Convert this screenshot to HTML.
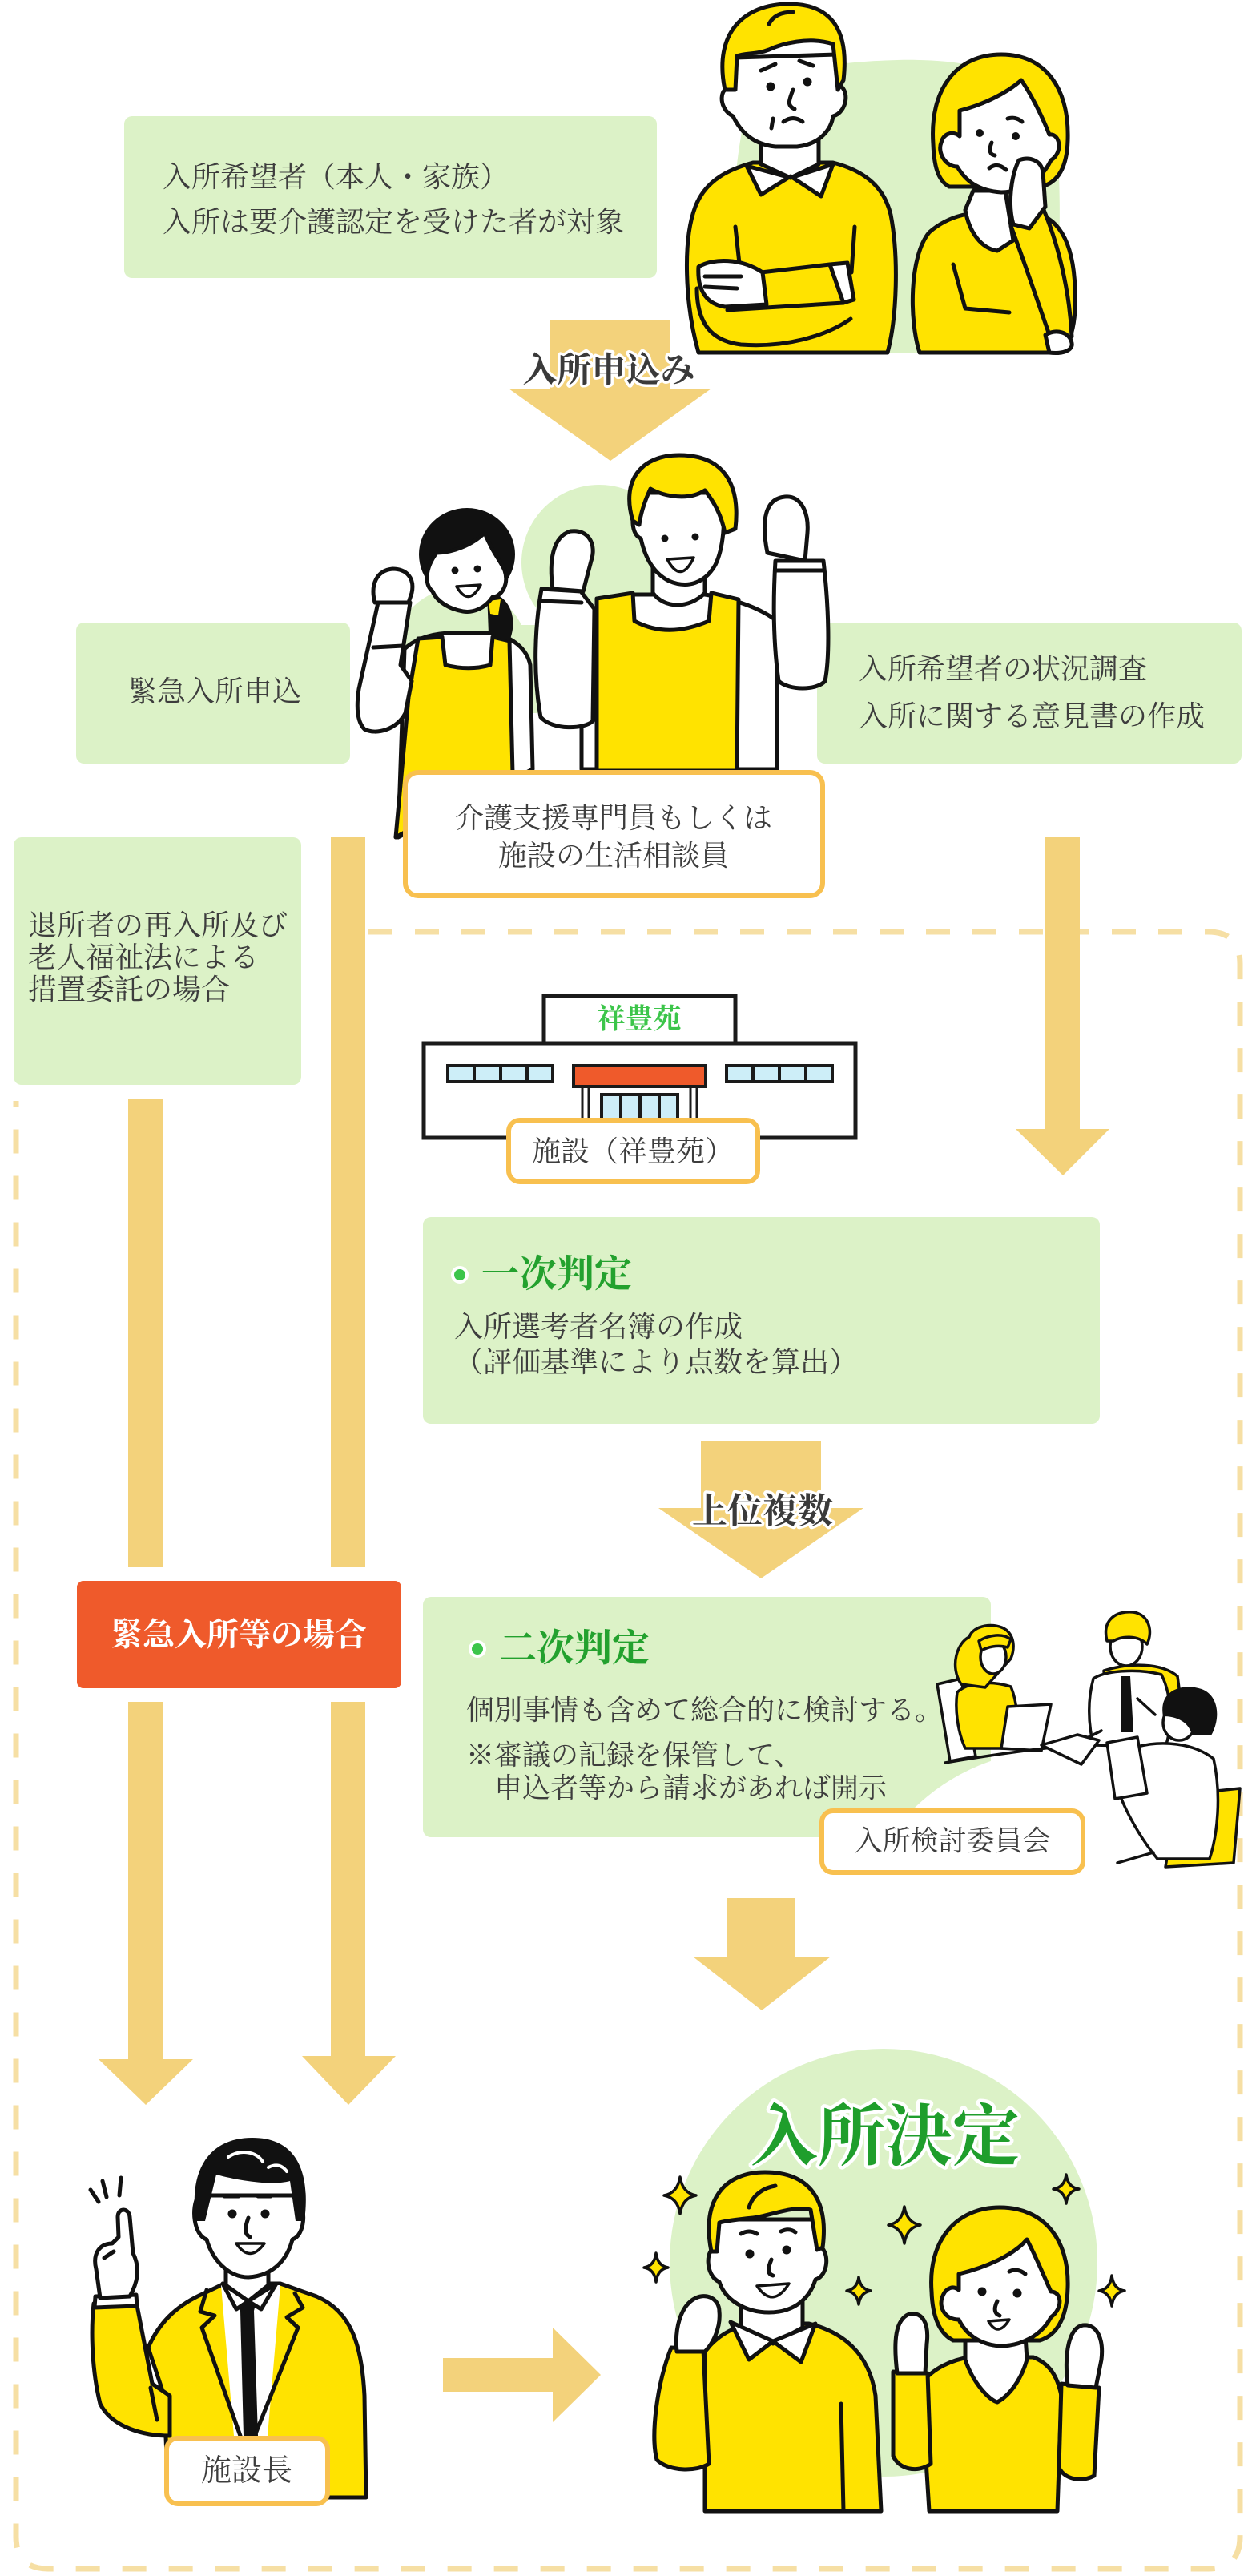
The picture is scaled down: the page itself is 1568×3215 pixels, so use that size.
<!DOCTYPE html>
<html><head><meta charset="utf-8">
<style>
html,body{margin:0;padding:0;background:#fff;}
body{width:1568px;height:3215px;overflow:hidden;position:relative;}
svg{position:absolute;left:0;top:0;display:block;}
text{font-family:"Liberation Serif","Noto Serif CJK SC","Noto Serif CJK JP",serif;}
.g{fill:#dcf2c7;}
.ar{fill:#f3d27b;}
.lb{fill:#fff;stroke:#f8c04f;stroke-width:6;}
.ln{stroke:#111;stroke-width:5;stroke-linejoin:round;stroke-linecap:round;}
.l3{stroke:#111;stroke-width:3.5;stroke-linejoin:round;stroke-linecap:round;}
.y{fill:#ffe300;}
.w{fill:#fff;}
.nf{fill:none;}
.t{font-size:36px;fill:#3d3d3d;}
.lab{font-size:43px;font-weight:700;fill:#3a3a3a;stroke:#fff;stroke-width:7px;paint-order:stroke;stroke-linejoin:round;}
.ttl{font-size:47px;font-weight:700;fill:#23a12e;}
</style></head><body>
<svg width="1568" height="3215" viewBox="0 0 1568 3215" xmlns="http://www.w3.org/2000/svg">
<defs>
<clipPath id="cg"><rect x="528" y="1993" width="709" height="300" rx="10"/></clipPath>
</defs>

<!-- dashed border -->
<path d="M 460 1163 H 1508 Q 1548 1163 1548 1203 V 3166 Q 1548 3206 1508 3206 H 60 Q 20 3206 20 3166 V 1374" fill="none" stroke="#f6dfa4" stroke-width="7" stroke-dasharray="30 28"/>

<!-- Box A -->
<rect class="g" x="155" y="145" width="665" height="202" rx="10"/>
<text class="t" x="203" y="221" dominant-baseline="central">入所希望者（本人・家族）</text>
<text class="t" x="203" y="277" dominant-baseline="central">入所は要介護認定を受けた者が対象</text>

<!-- Top couple -->
<path class="g" d="M 925 170 C 935 95 1010 78 1120 75 C 1240 72 1318 100 1322 220 C 1326 330 1318 420 1260 440 L 960 440 C 915 420 905 290 925 170 Z"/>
<!-- man -->
<path class="y ln" d="M 872 440 C 855 380 852 300 868 258 C 882 222 915 210 940 203 L 1040 203 C 1075 212 1103 230 1112 268 C 1122 320 1120 395 1108 440 Z"/>
<path class="ln nf" d="M 918 283 L 924 338 M 1067 283 L 1063 340"/>
<path class="ln nf" d="M 870 360 C 870 400 885 425 925 430 C 980 434 1030 420 1062 398"/>
<path class="y ln" d="M 950 340 L 1036 330 L 1053 378 L 908 387 Z"/>
<path class="w ln" d="M 1036 330 L 1058 328 L 1066 374 L 1053 378 Z"/>
<path class="w ln" d="M 872 333 C 890 322 925 322 952 340 L 957 380 L 905 383 C 885 380 870 366 872 333 Z"/>
<path class="ln nf" d="M 880 345 L 925 345 M 880 358 L 920 360"/>
<path class="w ln" d="M 950 168 L 950 205 L 987 222 L 1022 205 L 1022 168 Z"/>
<path class="w ln" d="M 932 207 L 950 243 L 987 220 L 1025 245 L 1040 205 L 987 222 Z"/>
<path class="w ln" d="M 918 72 L 915 110 C 898 105 895 135 915 145 C 925 165 940 180 968 183 L 995 183 C 1025 180 1038 160 1040 145 C 1058 140 1062 110 1045 105 L 1045 68 Z"/>
<path class="y ln" d="M 905 112 C 890 40 930 5 985 5 C 1040 5 1060 40 1053 100 L 1046 112 L 1040 55 C 1010 45 975 55 960 62 C 945 68 930 66 920 70 L 918 112 Z"/>
<path class="ln nf" d="M 960 30 C 965 20 975 15 990 15 M 950 88 L 968 80 M 998 76 L 1015 82 M 990 112 C 985 125 982 132 992 136 M 978 152 Q 990 143 1002 152 M 965 148 L 963 160"/>
<circle cx="962" cy="108" r="5.5" fill="#111"/><circle cx="1008" cy="102" r="5.5" fill="#111"/>
<!-- woman -->
<path class="y ln" d="M 1148 440 C 1135 400 1135 320 1160 290 C 1185 268 1215 263 1250 265 L 1285 265 C 1320 268 1340 300 1342 360 C 1344 400 1338 425 1325 440 Z"/>
<path class="w ln" d="M 1205 262 C 1210 290 1225 310 1245 313 L 1265 300 L 1255 238 L 1215 238 Z"/>
<path class="ln nf" d="M 1190 330 L 1205 385 L 1260 390"/>
<path class="y ln" d="M 1165 180 C 1160 110 1195 68 1250 68 C 1305 68 1335 110 1333 175 C 1332 210 1320 228 1300 233 L 1185 233 C 1170 225 1166 205 1165 180 Z"/>
<path class="w ln" d="M 1198 138 C 1230 130 1258 115 1275 100 C 1290 122 1303 150 1310 168 C 1323 166 1328 190 1312 200 C 1300 225 1275 240 1250 240 C 1220 238 1205 225 1195 208 C 1180 208 1170 190 1175 178 C 1178 166 1190 163 1198 170 Z"/>
<circle cx="1223" cy="166" r="5" fill="#111"/><circle cx="1268" cy="170" r="5" fill="#111"/>
<path class="ln nf" d="M 1238 178 C 1234 188 1236 193 1242 194 M 1235 210 Q 1245 202 1256 212 M 1258 148 Q 1268 145 1276 152"/>
<path class="y ln" d="M 1262 282 L 1300 255 C 1320 300 1335 360 1338 420 L 1315 432 C 1300 390 1280 330 1262 282 Z"/>
<path class="w ln" d="M 1272 200 C 1285 195 1300 200 1302 215 L 1305 258 L 1285 285 L 1265 280 C 1258 255 1262 220 1272 200 Z"/>
<path class="w ln" d="M 1305 418 C 1318 410 1335 414 1338 428 C 1340 438 1325 442 1310 440 Z"/>

<!-- Arrow 1 -->
<path class="ar" d="M 687 400 H 837 V 485 H 888 L 762 575 L 635 485 H 687 Z"/>
<text class="lab" x="760" y="463" text-anchor="middle" dominant-baseline="central">入所申込み</text>

<!-- Box B, C -->
<rect class="g" x="95" y="777" width="342" height="176" rx="10"/>
<text class="t" x="160" y="863" dominant-baseline="central">緊急入所申込</text>
<rect class="g" x="1020" y="777" width="530" height="176" rx="10"/>
<text class="t" x="1072" y="835" dominant-baseline="central">入所希望者の状況調査</text>
<text class="t" x="1072" y="894" dominant-baseline="central">入所に関する意見書の作成</text>

<!-- Staff cloud -->
<g class="g">
<circle cx="748" cy="702" r="97"/><circle cx="575" cy="818" r="85"/><circle cx="872" cy="812" r="62"/>
<rect x="495" y="780" width="440" height="110"/>
</g>
<!-- woman staff -->
<path class="w ln" d="M 497 1045 L 505 810 C 520 795 545 790 565 790 L 615 790 C 640 795 658 810 662 830 L 665 960 Z"/>
<path class="y ln" d="M 522 797 L 552 795 L 556 830 C 575 835 595 835 612 830 L 615 795 L 636 800 L 640 965 L 494 1045 L 510 870 Z"/>
<path class="w ln" d="M 472 752 L 512 752 L 500 830 L 514 850 L 506 890 C 496 910 470 918 455 910 C 445 900 445 880 448 860 Z"/>
<path class="ln nf" d="M 466 808 L 503 806"/>
<path class="w ln" d="M 468 752 C 462 730 470 712 490 710 C 508 710 518 722 514 740 L 510 752 Z"/>
<ellipse cx="583" cy="692" rx="60" ry="58" fill="#111"/>
<path fill="#111" d="M 608 738 C 635 742 648 770 636 800 L 610 792 Z"/>
<path class="y" d="M 610 750 L 625 748 L 622 768 L 612 766 Z"/>
<path class="w ln" d="M 545 690 C 565 690 590 680 605 665 C 615 690 625 700 630 712 C 636 730 625 745 615 745 C 605 760 590 765 578 763 C 560 760 545 750 540 738 C 530 730 530 710 545 690 Z"/>
<circle cx="568" cy="712" r="4.5" fill="#111"/><circle cx="596" cy="710" r="4.5" fill="#111"/>
<path class="l3" fill="#fff" d="M 570 732 Q 585 758 600 730 Z"/>
<!-- man staff -->
<path class="w ln" d="M 726 805 C 730 770 750 750 780 742 L 880 742 C 920 748 950 760 970 775 L 970 960 L 726 960 Z"/>
<path class="y ln" d="M 745 747 L 790 740 L 792 775 C 820 790 850 790 885 775 L 888 740 L 922 748 L 920 962 L 745 962 Z"/>
<path class="w ln" d="M 676 735 L 725 738 L 742 760 L 740 900 C 730 910 690 912 675 895 C 665 840 668 780 676 735 Z"/>
<path class="ln nf" d="M 676 750 L 726 752"/>
<path class="w ln" d="M 690 735 C 685 700 690 670 712 663 C 735 660 745 680 738 700 L 728 738 Z"/>
<path class="w ln" d="M 968 700 L 1028 700 C 1035 760 1036 820 1030 850 C 1020 862 985 862 972 850 C 965 800 965 750 968 700 Z"/>
<path class="ln nf" d="M 968 712 L 1028 712"/>
<path class="w ln" d="M 958 690 C 950 650 955 622 980 620 C 1000 618 1010 640 1008 665 L 1005 700 Z"/>
<path class="w ln" d="M 815 700 L 815 740 C 830 760 860 760 880 740 L 880 700 Z"/>
<path class="w ln" d="M 798 630 C 786 640 788 668 800 672 C 805 695 815 715 835 725 C 858 735 880 728 893 705 C 903 685 906 650 902 615 L 800 615 Z"/>
<path class="y ln" d="M 790 650 C 775 600 800 568 848 568 C 900 568 925 600 918 660 L 905 665 C 900 640 890 625 880 612 C 860 625 830 620 812 610 C 805 625 800 640 798 655 Z"/>
<circle cx="830" cy="672" r="4.5" fill="#111"/><circle cx="868" cy="670" r="4.5" fill="#111"/>
<path class="l3" fill="#fff" d="M 833 698 Q 850 730 866 696 Z"/>

<!-- Box D -->
<rect class="lb" x="506" y="964" width="521" height="154" rx="16"/>
<text class="t" x="766" y="1021" text-anchor="middle" dominant-baseline="central">介護支援専門員もしくは</text>
<text class="t" x="766" y="1068" text-anchor="middle" dominant-baseline="central">施設の生活相談員</text>

<!-- Box E -->
<rect class="g" x="17" y="1045" width="359" height="309" rx="10"/>
<text class="t" x="35" y="1155" dominant-baseline="central">退所者の再入所及び</text>
<text class="t" x="35" y="1195" dominant-baseline="central">老人福祉法による</text>
<text class="t" x="35" y="1235" dominant-baseline="central">措置委託の場合</text>

<!-- bars -->
<rect class="ar" x="160" y="1372" width="43" height="584"/>
<rect class="ar" x="413" y="1045" width="43" height="911"/>
<path class="ar" d="M 1305 1045 H 1348 V 1409 H 1385 L 1327 1467 L 1268 1409 H 1305 Z"/>
<path class="ar" d="M 160 2124 H 203 V 2570 H 241 L 182 2627 L 123 2570 H 160 Z"/>
<path class="ar" d="M 413 2124 H 456 V 2566 H 494 L 435 2627 L 377 2566 H 413 Z"/>

<!-- Building -->
<rect x="529" y="1302" width="539" height="118" fill="#fff" stroke="#1a1a1a" stroke-width="5"/>
<rect x="679" y="1243" width="239" height="59" fill="#fff" stroke="#1a1a1a" stroke-width="5"/>
<text x="798" y="1272" text-anchor="middle" dominant-baseline="central" font-size="35" font-weight="700" fill="#3cc54a">祥豊苑</text>
<rect x="557" y="1328" width="135" height="24" fill="#1a1a1a"/>
<g fill="#cdeef8"><rect x="561" y="1332" width="29" height="16"/><rect x="594" y="1332" width="29" height="16"/><rect x="627" y="1332" width="29" height="16"/><rect x="660" y="1332" width="28" height="16"/></g>
<rect x="905" y="1328" width="136" height="24" fill="#1a1a1a"/>
<g fill="#cdeef8"><rect x="909" y="1332" width="29" height="16"/><rect x="942" y="1332" width="29" height="16"/><rect x="975" y="1332" width="29" height="16"/><rect x="1008" y="1332" width="29" height="16"/></g>
<rect x="716" y="1330" width="165" height="26" fill="#ef5a2b" stroke="#1a1a1a" stroke-width="4"/>
<path d="M 727 1356 V 1398 M 735 1356 V 1398 M 862 1356 V 1398 M 870 1356 V 1398" stroke="#1a1a1a" stroke-width="3"/>
<rect x="749" y="1364" width="99" height="34" fill="#1a1a1a"/>
<g fill="#cdeef8"><rect x="753" y="1368" width="20" height="30"/><rect x="777" y="1368" width="20" height="30"/><rect x="801" y="1368" width="20" height="30"/><rect x="825" y="1368" width="19" height="30"/></g>
<rect class="lb" x="635" y="1398" width="311" height="77" rx="14"/>
<text class="t" x="790" y="1437" text-anchor="middle" dominant-baseline="central">施設（祥豊苑）</text>

<!-- Box F -->
<rect class="g" x="528" y="1519" width="845" height="258" rx="10"/>
<circle cx="574" cy="1591" r="9" fill="#3cc54a" stroke="#fff" stroke-width="4"/>
<text class="ttl" x="601" y="1591" dominant-baseline="central">一次判定</text>
<text class="t" x="567" y="1656" dominant-baseline="central">入所選考者名簿の作成</text>
<text class="t" x="567" y="1700" dominant-baseline="central">（評価基準により点数を算出）</text>

<!-- Arrow 2 -->
<path class="ar" d="M 875 1798 H 1025 V 1882 H 1078 L 950 1970 L 822 1882 H 875 Z"/>
<text class="lab" x="952" y="1886" text-anchor="middle" dominant-baseline="central" style="font-size:44px">上位複数</text>

<!-- Orange box -->
<rect x="96" y="1973" width="405" height="134" rx="8" fill="#ef5a2b"/>
<text x="298" y="2040" text-anchor="middle" dominant-baseline="central" font-size="40" font-weight="700" fill="#fff">緊急入所等の場合</text>

<!-- Box G -->
<rect class="g" x="528" y="1993" width="709" height="300" rx="10"/>
<circle cx="1320" cy="2440" r="256" fill="#fff" clip-path="url(#cg)"/>
<circle cx="596" cy="2058" r="9" fill="#3cc54a" stroke="#fff" stroke-width="4"/>
<text class="ttl" x="623" y="2058" dominant-baseline="central">二次判定</text>
<text class="t" x="582" y="2135" dominant-baseline="central" style="font-size:35px">個別事情も含めて総合的に検討する。</text>
<text class="t" x="582" y="2191" dominant-baseline="central" style="font-size:35px">※審議の記録を保管して、</text>
<text class="t" x="617" y="2232" dominant-baseline="central" style="font-size:35px">申込者等から請求があれば開示</text>

<!-- Meeting illustration -->
<path class="w l3" d="M 1170 2102 L 1200 2095 L 1218 2192 L 1186 2198 Z"/>
<path class="y l3" d="M 1195 2112 C 1210 2098 1240 2098 1262 2105 C 1272 2130 1272 2160 1262 2182 L 1205 2182 C 1195 2160 1192 2132 1195 2112 Z"/>
<path class="y l3" d="M 1200 2102 C 1185 2080 1195 2050 1210 2043 C 1215 2028 1242 2024 1256 2034 C 1268 2044 1266 2060 1262 2070 L 1230 2106 Z"/>
<ellipse class="w l3" cx="1240" cy="2068" rx="16" ry="21"/>
<path class="y l3" d="M 1222 2048 C 1235 2040 1252 2038 1262 2046 L 1258 2056 C 1245 2052 1232 2056 1225 2060 Z"/>
<path class="w l3" d="M 1258 2130 L 1312 2127 L 1300 2185 L 1250 2182 Z"/>
<path class="l3 nf" d="M 1180 2200 C 1250 2188 1300 2182 1360 2176"/>
<path class="y l3" d="M 1378 2085 C 1410 2075 1450 2075 1470 2092 L 1475 2130 L 1380 2120 Z"/>
<path class="w l3" d="M 1365 2095 C 1380 2085 1420 2082 1450 2090 C 1465 2120 1462 2160 1455 2180 L 1365 2178 C 1358 2150 1358 2120 1365 2095 Z"/>
<path fill="#111" d="M 1399 2092 L 1411 2092 L 1415 2162 L 1400 2162 Z"/>
<ellipse class="w l3" cx="1406" cy="2055" rx="20" ry="24"/>
<path class="y l3" d="M 1382 2048 C 1375 2020 1395 2010 1415 2012 C 1434 2015 1440 2035 1432 2052 C 1420 2040 1400 2042 1390 2048 Z"/>
<path class="l3 nf" d="M 1420 2120 L 1442 2140 M 1375 2160 L 1335 2180"/>
<path class="w l3" d="M 1300 2178 L 1345 2165 L 1372 2172 L 1350 2202 Z"/>
<path class="y l3" d="M 1470 2240 L 1548 2232 L 1540 2325 L 1455 2330 Z"/>
<path class="w l3" d="M 1420 2180 C 1450 2172 1490 2175 1515 2195 C 1525 2240 1520 2290 1510 2320 L 1445 2320 C 1420 2290 1400 2250 1395 2230 Z"/>
<ellipse class="w l3" cx="1472" cy="2150" rx="20" ry="22"/>
<path fill="#111" d="M 1452 2142 C 1446 2110 1475 2100 1500 2108 C 1522 2116 1524 2145 1512 2166 L 1488 2166 C 1485 2150 1470 2142 1452 2142 Z"/>
<path class="w l3" d="M 1382 2175 L 1420 2168 L 1432 2238 L 1392 2245 Z"/>
<path class="l3 nf" d="M 1395 2325 L 1440 2312"/>

<rect class="lb" x="1026" y="2260" width="326" height="77" rx="14"/>
<text class="t" x="1189" y="2298" text-anchor="middle" dominant-baseline="central" style="font-size:35px">入所検討委員会</text>

<!-- Arrow 3 -->
<path class="ar" d="M 907 2369 H 993 V 2442 H 1037 L 951 2509 L 865 2442 H 907 Z"/>

<!-- Right arrow -->
<path class="ar" d="M 553 2943 H 690 V 2905 L 750 2964 L 690 3023 V 2985 H 553 Z"/>

<!-- Boss -->
<path class="y ln" d="M 185 2930 C 200 2895 225 2875 255 2862 L 280 2850 L 350 2850 L 395 2866 C 440 2885 452 2930 455 2990 L 457 3117 L 210 3117 L 205 2990 Z"/>
<path class="y ln" d="M 117 2875 L 170 2872 L 190 2975 L 212 2990 L 212 3040 C 180 3040 140 3030 125 3000 C 115 2960 113 2910 117 2875 Z"/>
<path class="w ln" d="M 119 2866 L 170 2864 L 171 2878 L 118 2880 Z"/>
<path class="w" d="M 276 2852 L 350 2852 L 334 3040 L 292 3040 Z"/>
<path fill="#111" d="M 297 2868 L 321 2868 L 317 2884 L 322 3040 L 304 3040 L 300 2884 Z"/>
<path class="w ln" d="M 282 2820 L 282 2852 L 310 2872 L 335 2852 L 335 2820 Z"/>
<path class="w ln" d="M 278 2850 L 295 2882 L 310 2872 L 326 2882 L 345 2850 L 310 2872 Z"/>
<path class="ln nf" d="M 258 2858 L 250 2885 L 268 2890 L 252 2905 L 300 3040 M 368 2862 L 378 2880 L 358 2892 L 372 2905 L 318 3040 M 188 2980 L 196 3020"/>
<path class="w ln" d="M 248 2740 C 238 2755 242 2790 258 2795 C 265 2820 285 2842 310 2842 C 345 2840 360 2815 365 2795 C 380 2790 384 2758 370 2740 Z"/>
<path fill="#111" d="M 245 2772 C 235 2710 260 2668 315 2668 C 370 2668 388 2710 380 2772 L 369 2772 L 362 2722 C 340 2728 300 2722 270 2714 L 256 2772 Z"/>
<path stroke="#fff" stroke-width="4" fill="none" stroke-linecap="round" d="M 285 2692 C 300 2682 320 2685 328 2698 M 335 2705 C 345 2700 352 2702 358 2710"/>
<circle cx="290" cy="2763" r="5.5" fill="#111"/><circle cx="331" cy="2763" r="5.5" fill="#111"/>
<path class="ln nf" d="M 280 2741 L 298 2741 M 322 2741 L 338 2741 M 310 2768 C 305 2782 305 2788 312 2792"/>
<path class="l3" fill="#fff" d="M 295 2800 Q 312 2825 330 2800 Z"/>
<path class="w ln" d="M 120 2832 C 115 2812 125 2800 140 2800 L 148 2792 L 147 2767 C 147 2755 161 2755 162 2767 L 166 2812 C 176 2832 171 2850 162 2866 L 125 2868 Z"/>
<path class="ln nf" d="M 113 2733 L 123 2748 M 128 2722 L 133 2742 M 151 2718 L 149 2740 M 130 2818 L 142 2810"/>
<rect class="lb" x="208" y="3043" width="201" height="82" rx="14"/>
<text class="t" x="308" y="3084" text-anchor="middle" dominant-baseline="central" style="font-size:38px">施設長</text>

<!-- Happy couple -->
<circle class="g" cx="1103" cy="2824" r="267"/>
<text x="1105" y="2668" text-anchor="middle" dominant-baseline="central" font-size="84" font-weight="700" fill="#1f9e2c" stroke="#fff" stroke-width="9" paint-order="stroke" stroke-linejoin="round">入所決定</text>
<!-- sparkles -->
<g class="y l3">
<path d="M 849 2717 Q 852 2737 869 2740 Q 852 2743 849 2763 Q 846 2743 829 2740 Q 846 2737 849 2717 Z"/>
<path d="M 819 2812 Q 821 2828 834 2830 Q 821 2832 819 2848 Q 817 2832 804 2830 Q 817 2828 819 2812 Z"/>
<path d="M 1129 2754 Q 1132 2774 1149 2777 Q 1132 2780 1129 2800 Q 1126 2780 1109 2777 Q 1126 2774 1129 2754 Z"/>
<path d="M 1072 2842 Q 1074 2857 1087 2859 Q 1074 2861 1072 2876 Q 1070 2861 1057 2859 Q 1070 2857 1072 2842 Z"/>
<path d="M 1331 2714 Q 1333 2730 1347 2732 Q 1333 2734 1331 2750 Q 1329 2734 1315 2732 Q 1329 2730 1331 2714 Z"/>
<path d="M 1388 2840 Q 1390 2857 1404 2859 Q 1390 2861 1388 2878 Q 1386 2861 1372 2859 Q 1386 2857 1388 2840 Z"/>
</g>
<!-- man -->
<path class="y ln" d="M 880 2935 C 895 2915 915 2905 935 2900 L 1010 2900 C 1050 2910 1085 2935 1093 2990 L 1100 3134 L 880 3134 Z"/>
<path class="y ln" d="M 838 2930 L 878 2932 L 885 3075 C 870 3085 835 3085 820 3070 C 812 3040 820 2975 838 2930 Z"/>
<path class="ln nf" d="M 1050 3000 L 1053 3134"/>
<path class="w ln" d="M 845 2935 C 842 2905 850 2880 865 2870 C 880 2860 898 2868 898 2885 C 900 2905 890 2925 880 2935 Z"/>
<path class="w ln" d="M 925 2868 L 925 2905 L 965 2925 L 1002 2905 L 1002 2868 Z"/>
<path class="w ln" d="M 912 2898 L 935 2945 L 965 2922 L 1000 2948 L 1018 2900 L 965 2922 Z"/>
<path class="w ln" d="M 898 2770 L 895 2805 C 880 2805 880 2840 898 2848 C 905 2870 930 2886 960 2886 C 995 2886 1012 2865 1018 2845 C 1035 2840 1036 2808 1022 2803 L 1020 2770 Z"/>
<path class="y ln" d="M 888 2810 C 875 2745 905 2711 955 2711 C 1010 2711 1035 2745 1027 2805 L 1020 2808 L 1012 2758 C 990 2752 960 2766 940 2768 C 920 2770 905 2772 898 2774 L 895 2810 Z"/>
<circle cx="936" cy="2813" r="5.5" fill="#111"/><circle cx="982" cy="2808" r="5.5" fill="#111"/>
<path class="ln nf" d="M 925 2788 Q 935 2782 945 2788 M 975 2785 Q 985 2780 993 2786 M 963 2820 C 958 2832 958 2838 965 2840 M 935 2755 C 940 2738 955 2730 968 2728"/>
<path class="l3" fill="#fff" d="M 945 2853 Q 965 2882 985 2850 Z"/>
<!-- woman -->
<path class="y ln" d="M 1150 2975 C 1165 2955 1190 2945 1210 2942 L 1290 2942 C 1310 2950 1320 2965 1325 2990 L 1320 3134 L 1160 3134 Z"/>
<path class="y ln" d="M 1115 2960 L 1158 2962 L 1162 3075 C 1145 3087 1122 3082 1115 3065 Z"/>
<path class="y ln" d="M 1325 2975 L 1372 2980 L 1366 3090 C 1350 3098 1330 3095 1322 3080 Z"/>
<path class="w ln" d="M 1120 2962 C 1115 2920 1118 2895 1135 2888 C 1152 2885 1160 2900 1157 2925 L 1155 2962 Z"/>
<path class="w ln" d="M 1333 2977 C 1328 2935 1335 2905 1352 2902 C 1370 2900 1378 2920 1375 2945 L 1368 2980 Z"/>
<path class="w ln" d="M 1205 2915 L 1205 2945 C 1215 2975 1235 2995 1245 2998 C 1260 2990 1275 2970 1282 2945 L 1280 2915 Z"/>
<path class="y ln" d="M 1163 2860 C 1158 2795 1195 2755 1248 2755 C 1303 2755 1335 2795 1333 2855 C 1332 2895 1318 2915 1298 2921 L 1190 2921 C 1172 2912 1164 2890 1163 2860 Z"/>
<path class="w ln" d="M 1197 2838 C 1230 2830 1265 2815 1282 2795 C 1295 2820 1305 2845 1312 2860 C 1325 2860 1328 2880 1312 2892 C 1300 2915 1275 2928 1248 2928 C 1222 2926 1205 2912 1197 2895 C 1180 2895 1172 2880 1176 2868 C 1180 2855 1190 2852 1197 2858 Z"/>
<circle cx="1226" cy="2860" r="5.5" fill="#111"/><circle cx="1270" cy="2862" r="5.5" fill="#111"/>
<path class="ln nf" d="M 1260 2835 Q 1270 2830 1280 2838 M 1245 2872 C 1240 2882 1242 2888 1248 2890"/>
<path class="l3" fill="#fff" d="M 1234 2897 Q 1246 2918 1260 2895 Z"/>
</svg>
</body></html>
